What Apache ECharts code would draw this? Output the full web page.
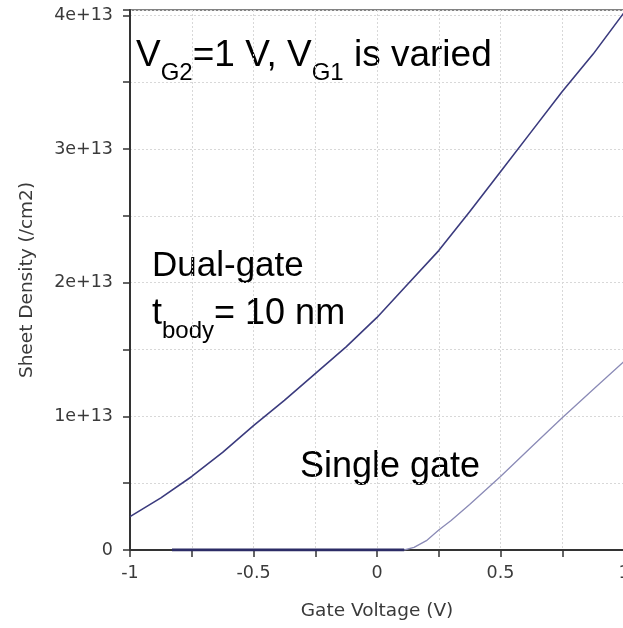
<!DOCTYPE html>
<html>
<head>
<meta charset="utf-8">
<script src="https://cdn.jsdelivr.net/npm/echarts@6/dist/echarts.min.js"></script>
<style>html,body{margin:0;padding:0;background:#fff}#c{width:623px;height:628px}</style>
</head>
<body>
<div id="c"></div>
<script>
// Dual-gate curve (VG2 = 1 V, VG1 varied)
const dualX = [-1, -0.875, -0.75, -0.625, -0.5, -0.375, -0.25, -0.125, 0, 0.125, 0.25, 0.375, 0.5, 0.625, 0.75, 0.875, 1];
const dualY = [0.25e13, 0.39e13, 0.55e13, 0.73e13, 0.93e13, 1.12e13, 1.32e13, 1.52e13, 1.74e13, 1.99e13, 2.24e13, 2.53e13, 2.83e13, 3.13e13, 3.43e13, 3.71e13, 4.02e13];
// Single gate curve
const singleX = [0.11, 0.15, 0.2, 0.25, 0.3, 0.375, 0.5, 0.625, 0.75, 0.875, 1];
const singleY = [0, 0.02e13, 0.07e13, 0.15e13, 0.22e13, 0.34e13, 0.55e13, 0.77e13, 0.99e13, 1.2e13, 1.41e13];
// Flat (zero) segment
const flatX = [-0.83, 0.11];
const flatY = [0, 0];

const xTickLabels = ['-1', '-0.5', '0', '0.5', '1'];
const yTickLabels = ['0', '1e+13', '2e+13', '3e+13', '4e+13'];

const pairs = (xs, ys) => xs.map((x, i) => [x, ys[i]]);

const axisFont = 'DejaVu Sans';
const txtFont = 'Liberation Sans';

const chart = echarts.init(document.getElementById('c'), null, {renderer: 'canvas'});
chart.setOption({
  animation: false,
  backgroundColor: '#fff',
  grid: {left: 130, top: 10, width: 494, height: 540, show: true, borderColor: '#5a5a5a', borderWidth: 1.5, containLabel: false, outerBoundsMode: 'none'},
  xAxis: {
    type: 'value', min: -1, max: 1, interval: 0.25,
    name: 'Gate Voltage (V)', nameLocation: 'middle', nameGap: 52,
    nameTextStyle: {fontFamily: axisFont, fontSize: 18.5, color: '#3a3a3a'},
    axisLine: {show: true, onZero: false, lineStyle: {color: '#333', width: 2}},
    axisTick: {show: true, length: 7, lineStyle: {color: '#333', width: 1.5}},
    axisLabel: {
      margin: 14, fontFamily: axisFont, fontSize: 17.5, color: '#3a3a3a', hideOverlap: false,
      formatter: v => { const i = Math.round((v + 1) / 0.5); return Math.abs(v + 1 - i * 0.5) < 1e-9 ? xTickLabels[i] : ''; }
    },
    splitLine: {show: true, lineStyle: {color: '#d8d8d8', type: [2, 2], width: 1}}
  },
  yAxis: {
    type: 'value', min: 0, max: 4.04e13, interval: 0.5e13,
    name: 'Sheet Density (/cm2)', nameLocation: 'middle', nameGap: 93,
    nameTextStyle: {fontFamily: axisFont, fontSize: 18.5, color: '#3a3a3a'},
    axisLine: {show: true, onZero: false, lineStyle: {color: '#333', width: 2}},
    axisTick: {show: true, length: 7, lineStyle: {color: '#333', width: 1.5}},
    axisLabel: {
      margin: 17, fontFamily: axisFont, fontSize: 17.5, color: '#3a3a3a',
      formatter: v => { const i = Math.round(v / 1e13); return (Math.abs(v - i * 1e13) < 1 && i < yTickLabels.length) ? yTickLabels[i] : ''; }
    },
    splitLine: {show: true, lineStyle: {color: '#d8d8d8', type: [2, 2], width: 1}}
  },
  series: [
    {type: 'line', data: pairs(dualX, dualY), smooth: false, symbol: 'none', lineStyle: {color: '#3b3b7e', width: 1.6}},
    {type: 'line', data: pairs(singleX, singleY), smooth: false, symbol: 'none', lineStyle: {color: '#8a8ab6', width: 1.3}},
    {type: 'line', data: pairs(flatX, flatY), symbol: 'none', lineStyle: {color: '#2c2c66', width: 3}}
  ],
  graphic: [
    {type: 'text', left: 136, top: 37, style: {
      text: '{n|V}{s|G2}{n|=1 V, V}{s|G1}{n| is varied}',
      rich: {
        n: {fontFamily: txtFont, fontSize: 37, lineHeight: 40, verticalAlign: 'top', fill: '#000'},
        s: {fontFamily: txtFont, fontSize: 24, lineHeight: 24, padding: [24, 0, 0, 0], verticalAlign: 'top', fill: '#000'}
      }
    }},
    {type: 'text', left: 152, top: 249, style: {text: 'Dual-gate', font: '35px "Liberation Sans"', fill: '#000'}},
    {type: 'text', left: 152, top: 296, style: {
      text: '{n|t}{s|body}{n|= 10 nm}',
      rich: {
        n: {fontFamily: txtFont, fontSize: 36, lineHeight: 40, verticalAlign: 'top', fill: '#000'},
        s: {fontFamily: txtFont, fontSize: 24, lineHeight: 24, padding: [23, 0, 0, 0], verticalAlign: 'top', fill: '#000'}
      }
    }},
    {type: 'text', left: 300, top: 449, style: {text: 'Single gate', font: '36px "Liberation Sans"', fill: '#000'}}
  ]
});
</script>
</body>
</html>
